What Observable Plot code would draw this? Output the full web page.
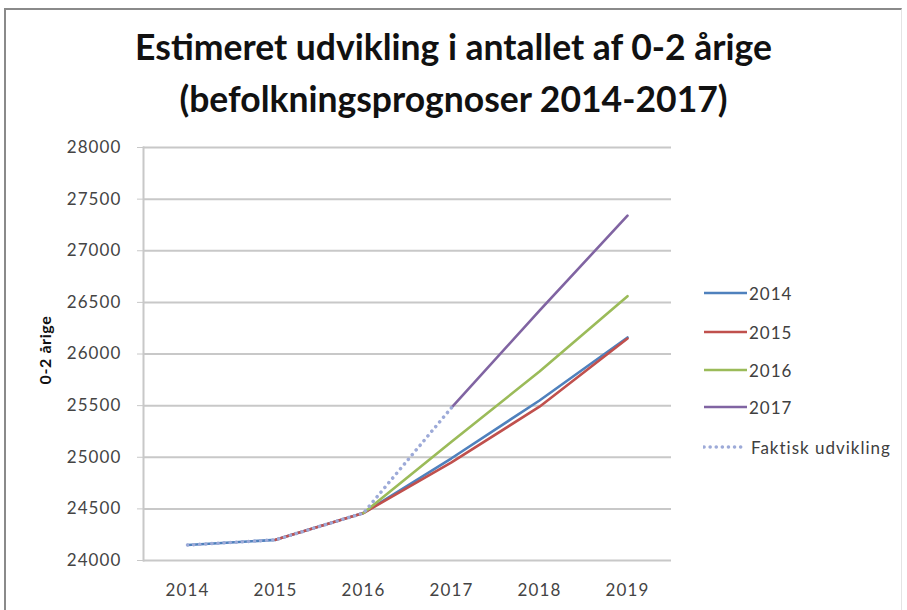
<!DOCTYPE html>
<html>
<head>
<meta charset="utf-8">
<script src="https://cdn.jsdelivr.net/npm/d3@7"></script>
<script src="https://cdn.jsdelivr.net/npm/@observablehq/plot@0.6"></script>
<style>
  html, body { margin: 0; padding: 0; background: #fff; overflow: hidden; }
  #wrap { position: relative; width: 907px; height: 610px; font-family: Lato, "Open Sans", sans-serif; }
  #frame { position: absolute; left: 4px; top: 8px; width: 898px; height: 620px; border-left: 2px solid #8a8a8a; border-top: 2px solid #8a8a8a; border-right: 1px solid #e4e4e4; box-sizing: border-box; }
  #title { position: absolute; left: 0; width: 907px; top: 21px; text-align: center; font-weight: bold; font-size: 35.5px; line-height: 52px; color: #111; }
  #ylab { position: absolute; left: 44px; top: 350px; transform: translate(-50%, -50%) rotate(-90deg); font-weight: bold; font-size: 16px; letter-spacing: 0.6px; color: #111; white-space: nowrap; }
  #chart { position: absolute; left: 0; top: 0; }
  #legend { position: absolute; left: 703px; top: 280px; font-size: 17px; letter-spacing: 1px; color: #404040; }
  .row { position: absolute; left: 0; height: 22px; display: flex; align-items: center; white-space: nowrap; }
  .row svg { margin-right: 2px; }
</style>
</head>
<body>
<div id="wrap">
  <div id="frame"></div>
  <div id="chart"></div>
  <div id="title">Estimeret udvikling i antallet af 0-2 årige<br>(befolkningsprognoser 2014-2017)</div>
  <div id="ylab">0-2 årige</div>
  <div id="legend"></div>
</div>
<script>
const years = [2014, 2015, 2016, 2017, 2018, 2019];
const prog2014 = [24150, 24200, 24460, 24990, 25550, 26160];
const prog2015 = [null, 24200, 24460, 24950, 25490, 26150];
const prog2016 = [null, null, 24460, 25150, 25830, 26560];
const prog2017 = [null, null, null, 25480, 26420, 27340];
const faktisk  = [24150, 24200, 24460, 25480, null, null];
const yTicks = [24000, 24500, 25000, 25500, 26000, 26500, 27000, 27500, 28000];

const seriesNames = ["2014", "2015", "2016", "2017"];
const seriesValues = [prog2014, prog2015, prog2016, prog2017];
const colors = ["#4F81BD", "#C0504D", "#9BBB59", "#8064A2"];
const faktiskName = "Faktisk udvikling";
const faktiskColor = "#9DAAD8";

const rows = [];
seriesNames.forEach((s, i) => years.forEach((y, j) => {
  if (seriesValues[i][j] != null) rows.push({series: s, year: String(y), value: seriesValues[i][j]});
}));
const fRows = years.map((y, j) => ({year: String(y), value: faktisk[j]})).filter(d => d.value != null);

const plot = Plot.plot({
  width: 907,
  height: 610,
  marginLeft: 143,
  marginRight: 236,
  marginTop: 147,
  marginBottom: 50,
  style: {fontFamily: "Lato, 'Open Sans', sans-serif", fontSize: "17px", color: "#444", background: "transparent", letterSpacing: "1.1px"},
  x: {type: "point", domain: years.map(String), padding: 0.5},
  y: {domain: [24000, 28000]},
  color: {domain: seriesNames, range: colors},
  marks: [
    Plot.gridY(yTicks, {stroke: "#c8c8c8", strokeOpacity: 1, strokeWidth: 2}),
    Plot.frame({anchor: "left", stroke: "#c8c8c8", strokeWidth: 2}),
    Plot.axisY(yTicks, {tickSize: 6, tickPadding: 16, stroke: "#c8c8c8", label: null, tickFormat: d => String(d)}),
    Plot.axisX({tickSize: 0, tickPadding: 23, label: null}),
    Plot.line(rows, {x: "year", y: "value", z: "series", stroke: "series", strokeWidth: 2.6}),
    Plot.line(fRows, {x: "year", y: "value", stroke: faktiskColor, strokeWidth: 3.5, strokeDasharray: "0.1,6", strokeLinecap: "round"})
  ]
});
document.getElementById("chart").appendChild(plot);

// Legend
const legend = document.getElementById("legend");
const items = seriesNames.map((s, i) => ({name: s, color: colors[i], dashed: false}))
  .concat([{name: faktiskName, color: faktiskColor, dashed: true}]);
const rowTops = [2, 41, 79, 116, 156];
items.forEach((it, i) => {
  const row = document.createElement("div");
  row.className = "row";
  row.style.top = rowTops[i] + "px";
  const svg = d3.create("svg").attr("width", it.dashed ? 46 : 44).attr("height", 22);
  svg.append("line").attr("x1", 1).attr("x2", it.dashed ? 38 : 44).attr("y1", 11).attr("y2", 11)
    .attr("stroke", it.color).attr("stroke-width", it.dashed ? 3.5 : 2.6)
    .attr("stroke-dasharray", it.dashed ? "0.1,6" : null).attr("stroke-linecap", it.dashed ? "round" : "butt");
  row.appendChild(svg.node());
  const t = document.createElement("span");
  t.textContent = it.name;
  row.appendChild(t);
  legend.appendChild(row);
});
</script>
</body>
</html>
